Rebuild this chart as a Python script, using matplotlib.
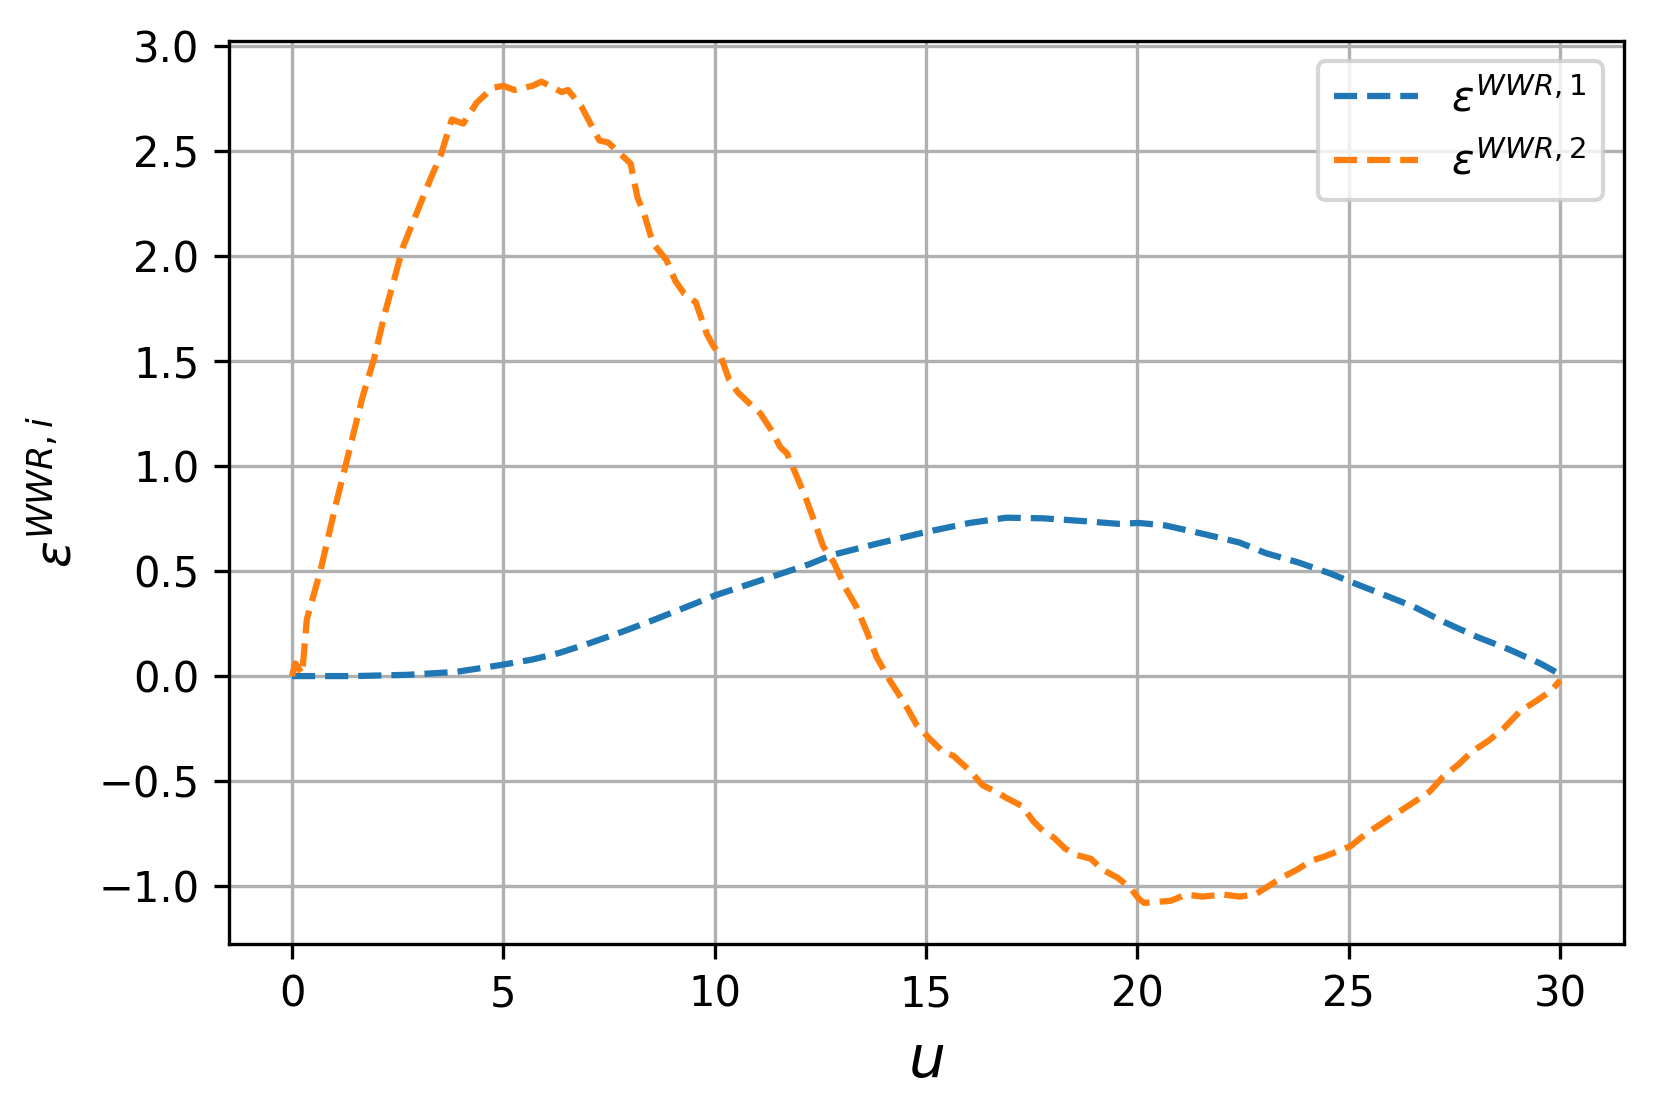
import numpy as np
import matplotlib.pyplot as plt

# values
u_1 = [0.0, 1.46, 2.73, 3.89, 4.95, 5.69, 6.32, 7.06, 7.8, 8.54, 9.28, 10.02,
       10.76, 11.5, 12.24, 12.77, 13.77, 15.0, 16.03, 16.9, 17.78, 18.78, 19.53,
       20.03, 20.66, 21.53, 22.41, 23.04, 23.79, 24.54, 25.04, 25.79, 26.54,
       27.29, 28.04, 28.79, 29.54, 30.0]
eps_1 = [0.0, 0.0, 0.006, 0.02, 0.053, 0.079, 0.11, 0.158, 0.21, 0.266, 0.325,
         0.385, 0.434, 0.483, 0.533, 0.576, 0.627, 0.686, 0.729, 0.754, 0.751,
         0.737, 0.725, 0.729, 0.717, 0.678, 0.636, 0.585, 0.542, 0.49, 0.449,
         0.39, 0.33, 0.254, 0.186, 0.127, 0.059, 0.008]

u_2 = [0.0, 0.08, 0.24, 0.35, 0.67, 1.04, 1.35, 1.67, 1.94, 2.2, 2.46, 2.62,
       2.94, 3.26, 3.52, 3.78, 4.05, 4.37, 4.74, 5.0, 5.26, 5.69, 5.9, 6.1,
       6.38, 6.53, 6.85, 7.06, 7.27, 7.48, 7.8, 8.01, 8.17, 8.33, 8.54, 8.86,
       9.07, 9.28, 9.55, 9.81, 9.97, 10.13, 10.34, 10.55, 10.81, 11.08, 11.34,
       11.55, 11.71, 11.92, 12.13, 12.35, 12.56, 12.82, 13.09, 13.35, 13.6,
       13.83, 14.14, 14.52, 14.77, 15.09, 15.4, 15.65, 16.03, 16.34, 16.65,
       16.9, 17.28, 17.53, 17.78, 18.03, 18.28, 18.53, 18.9, 19.16, 19.53,
       19.84, 20.03, 20.16, 20.78, 21.16, 21.53, 22.03, 22.41, 22.78, 23.1,
       23.41, 23.79, 24.1, 24.41, 24.79, 25.04, 25.41, 25.79, 26.16, 26.54,
       26.91, 27.23, 27.6, 27.91, 28.29, 28.66, 29.04, 29.42, 29.79, 30.0]
eps_2 = [0.0, 0.06, 0.01, 0.27, 0.5, 0.82, 1.07, 1.33, 1.51, 1.73, 1.92, 2.04,
         2.2, 2.36, 2.48, 2.65, 2.63, 2.73, 2.8, 2.81, 2.79, 2.81, 2.83, 2.81,
         2.78, 2.79, 2.71, 2.63, 2.55, 2.54, 2.48, 2.44, 2.28, 2.2, 2.06, 1.98,
         1.88, 1.82, 1.78, 1.63, 1.57, 1.53, 1.41, 1.35, 1.3, 1.25, 1.17, 1.09,
         1.06, 0.96, 0.86, 0.74, 0.62, 0.54, 0.42, 0.33, 0.21, 0.09, -0.02,
         -0.14, -0.23, -0.3, -0.36, -0.38, -0.45, -0.52, -0.55, -0.58, -0.62,
         -0.69, -0.74, -0.77, -0.82, -0.85, -0.87, -0.92, -0.96, -1.01, -1.06,
         -1.08, -1.07, -1.04, -1.05, -1.04, -1.05, -1.04, -1.0, -0.96, -0.92,
         -0.88, -0.86, -0.83, -0.81, -0.75, -0.7, -0.65, -0.6, -0.55, -0.48,
         -0.42, -0.36, -0.31, -0.25, -0.17, -0.12, -0.07, -0.02]

fig = plt.figure(figsize=(1653 / 300, 1114 / 300), dpi=300)
ax = fig.add_axes([0.1383, 0.1526, 0.8439, 0.811])

ax.plot(u_1, eps_1, '--', color='#1f77b4', label=r'$\varepsilon^{WWR,1}$')
ax.plot(u_2, eps_2, '--', color='#ff7f0e', label=r'$\varepsilon^{WWR,2}$')

ax.set_xlabel(r'$u$', fontsize=14)
ax.set_ylabel(r'$\varepsilon^{WWR,i}$', fontsize=12)
ax.grid(True)
ax.legend(fontsize=10)

fig.savefig('out.png', dpi=300)
